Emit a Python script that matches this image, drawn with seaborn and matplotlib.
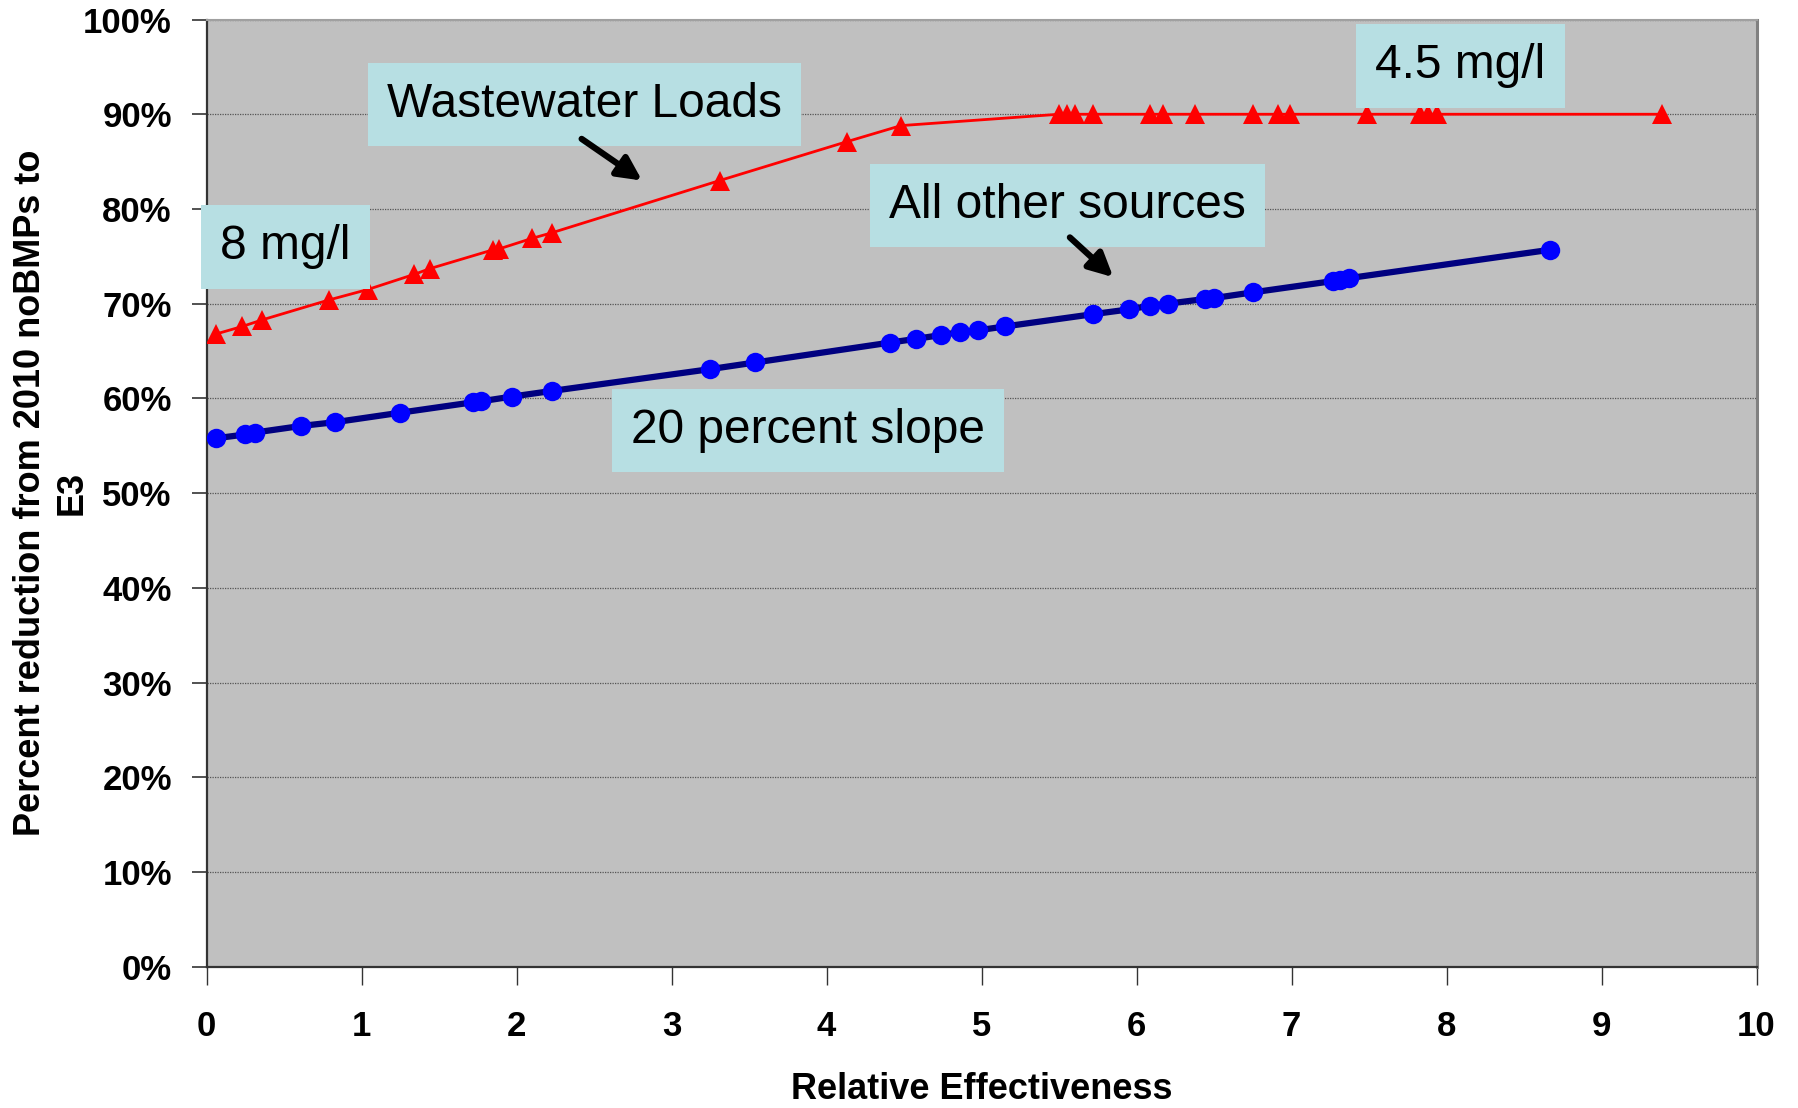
import pandas as pd
import matplotlib
matplotlib.use("Agg")
import matplotlib.pyplot as plt
import seaborn as sns
from matplotlib.ticker import FuncFormatter, MultipleLocator

# Wastewater loads (red triangles)
ww_x = [0.06, 0.23, 0.36, 0.79, 1.04, 1.34, 1.44, 1.85, 1.89, 2.10, 2.23, 3.31,
        4.13, 4.48, 5.50, 5.55, 5.60, 5.72, 6.09, 6.17, 6.38, 6.75, 6.91, 6.99,
        7.49, 7.83, 7.88, 7.94, 9.39]
ww_y = [66.8, 67.6, 68.3, 70.4, 71.5, 73.1, 73.7, 75.7, 75.8, 76.9, 77.5, 83.0,
        87.1, 88.8, 90.0, 90.0, 90.0, 90.0, 90.0, 90.0, 90.0, 90.0, 90.0, 90.0,
        90.0, 90.0, 90.0, 90.0, 90.0]

# All other sources (blue circles)
oth_x = [0.06, 0.25, 0.31, 0.61, 0.83, 1.25, 1.72, 1.77, 1.97, 2.23, 3.25, 3.54,
         4.41, 4.58, 4.74, 4.86, 4.98, 5.15, 5.72, 5.95, 6.09, 6.20, 6.44, 6.50,
         6.75, 7.27, 7.31, 7.37, 8.67]
oth_y = [55.8, 56.2, 56.4, 57.1, 57.5, 58.5, 59.6, 59.7, 60.2, 60.8, 63.1, 63.8,
         65.9, 66.3, 66.7, 67.0, 67.2, 67.6, 68.9, 69.4, 69.8, 70.0, 70.5, 70.6,
         71.2, 72.4, 72.5, 72.7, 75.7]

df_ww = pd.DataFrame({"x": ww_x, "y": ww_y})
df_oth = pd.DataFrame({"x": oth_x, "y": oth_y})

sns.set_style("white")
plt.rcParams["font.family"] = ["Liberation Sans", "DejaVu Sans"]
plt.rcParams.update({"text.color": "black", "axes.labelcolor": "black",
                     "xtick.color": "black", "ytick.color": "black"})

fig = plt.figure(figsize=(17.99, 11.08), dpi=100)
ax = fig.add_axes([0.1148, 0.1273, 0.8616, 0.8551])
ax.set_facecolor("#C0C0C0")

sns.lineplot(data=df_oth, x="x", y="y", ax=ax, color="#000080", lw=4.5,
             marker="o", markersize=14, markerfacecolor="#0000FF",
             markeredgewidth=0, estimator=None, sort=False, zorder=3)
sns.lineplot(data=df_ww, x="x", y="y", ax=ax, color="#FF0000", lw=2,
             marker="^", markersize=14, markerfacecolor="#FF0000",
             markeredgewidth=0, estimator=None, sort=False, zorder=3)

ax.set_xlim(0, 10)
ax.set_ylim(0, 100)
ax.xaxis.set_major_locator(MultipleLocator(1))
ax.yaxis.set_major_locator(MultipleLocator(10))
ax.yaxis.set_major_formatter(FuncFormatter(lambda v, p: f"{v:.0f}%"))
ax.grid(axis="y", color="#555555", linestyle=(0, (1, 1)), lw=0.9)
ax.grid(axis="x", visible=False)
ax.set_axisbelow(True)

ax.tick_params(axis="y", direction="out", length=11, width=1.2, color="#333333",
               pad=14, labelsize=25, left=True)
ax.tick_params(axis="x", direction="out", length=13, width=1, color="#333333",
               pad=18, labelsize=25, bottom=True)
for lab in ax.get_xticklabels() + ax.get_yticklabels():
    lab.set_fontweight("bold")

for side in ["left", "bottom"]:
    ax.spines[side].set_color("#333333")
    ax.spines[side].set_linewidth(1.6)
ax.spines["right"].set_color("#808080")
ax.spines["right"].set_linewidth(2.2)
ax.spines["top"].set_color("#A0A0A0")
ax.spines["top"].set_linewidth(1.5)

ax.set_xlabel("Relative Effectiveness", fontsize=26, fontweight="bold", labelpad=21)
ax.set_ylabel("Percent reduction from 2010 noBMPs to\nE3", fontsize=26,
              fontweight="bold", linespacing=1.25)
ax.yaxis.set_label_coords(-0.0755, 0.5)

box = dict(boxstyle="square,pad=0.4", facecolor="#B7DFE3", edgecolor="none")
labels = [
    ("Wastewater Loads", 2.44, 91.0),
    ("8 mg/l", 0.51, 76.0),
    ("4.5 mg/l", 8.09, 95.1),
    ("All other sources", 5.555, 80.4),
    ("20 percent slope", 3.88, 56.6),
]
for txt, lx, ly in labels:
    ax.text(lx, ly, txt, fontsize=34.5, ha="center", va="center", bbox=box, zorder=5)

arrow = dict(arrowstyle="-|>", color="black", lw=4.5, mutation_scale=36,
             shrinkA=0, shrinkB=0)
ax.annotate("", xy=(2.81, 83.0), xytext=(2.42, 87.4), arrowprops=arrow, zorder=6)
ax.annotate("", xy=(5.85, 72.8), xytext=(5.57, 77.0), arrowprops=arrow, zorder=6)

fig.savefig("out.png", dpi=100)
plt.close(fig)
